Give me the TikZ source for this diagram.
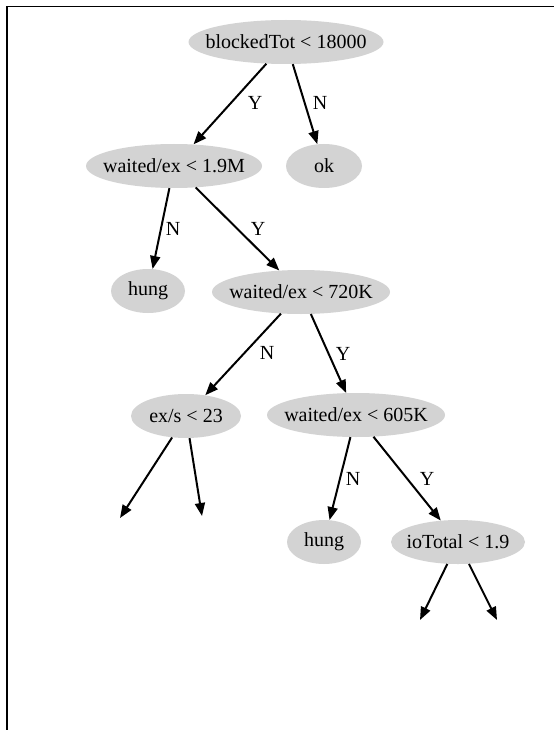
\documentclass[tikz,border=0pt]{standalone}
\usepackage{fontspec}
\setmainfont{Liberation Serif}
\usetikzlibrary{arrows.meta}
\usetikzlibrary{shapes.geometric}
\definecolor{nodegray}{HTML}{D3D3D3}
\newcommand{\testtxt}[1]{\makebox[0pt]{#1}}

\begin{document}
\begin{tikzpicture}[x=1pt,y=1pt,yscale=-1,xscale=1,
	test/.style={ellipse, fill=nodegray, draw=none, inner sep=0pt, minimum height=44pt, font=\fontsize{20}{23}\selectfont},
	elabel/.style={inner sep=0pt, font=\fontsize{20}{23}\selectfont},
	branch/.style={line width=2pt, -{Triangle[length=13pt,width=10pt]}}]
		\useasboundingbox (0,0) rectangle (554,730);
		
		%Shape: Frame
		\draw[line width=1.6pt] (7,730) -- (7,6.5) -- (554,6.5);
		
		%Tests and leaves
		\node[test, minimum width=195pt] (root) at (286,42) {\testtxt{blockedTot < 18000}};
		\node[test, minimum width=176pt] (wex19) at (174,166) {\testtxt{waited/ex < 1.9M}};
		\node[test, minimum width=76pt] (ok) at (324,166) {\testtxt{ok}};
		\node[test, minimum width=74pt] (hungA) at (148,291) {\testtxt{hung}};
		\node[test, minimum width=178pt] (wex720) at (301,292) {\testtxt{waited/ex < 720K}};
		\node[test, minimum width=110pt] (exs) at (186,416) {\testtxt{ex/s < 23}};
		\node[test, minimum width=178pt] (wex605) at (356,415) {\testtxt{waited/ex < 605K}};
		\node[test, minimum width=74pt] (hungB) at (324,542) {\testtxt{hung}};
		\node[test, minimum width=134pt] (iot) at (458,542) {\testtxt{ioTotal < 1.9}};
		
		%Free ends
		\coordinate (exsL) at (120,518);
		\coordinate (exsR) at (202,516);
		\coordinate (iotL) at (420,620);
		\coordinate (iotR) at (497,620);
		
		%Branches
		\draw[branch] (root) -- (wex19);
		\draw[branch] (root) -- (ok);
		\draw[branch] (wex19) -- (hungA);
		\draw[branch] (wex19) -- (wex720);
		\draw[branch] (wex720) -- (exs);
		\draw[branch] (wex720) -- (wex605);
		\draw[branch] (wex605) -- (hungB);
		\draw[branch] (wex605) -- (iot);
		\draw[branch] (exs) -- (exsL);
		\draw[branch] (exs) -- (exsR);
		\draw[branch] (iot) -- (iotL);
		\draw[branch] (iot) -- (iotR);
		
		%Branch labels
		\node[elabel] (yA) at (255,103) {Y};
		\node[elabel] (nA) at (320,103) {N};
		\node[elabel] (nB) at (173,229) {N};
		\node[elabel] (yB) at (258,229) {Y};
		\node[elabel] (nC) at (267,353) {N};
		\node[elabel] (yC) at (343,354) {Y};
		\node[elabel] (nD) at (353,479) {N};
		\node[elabel] (yD) at (427,479) {Y};
		
	\end{tikzpicture}
\end{document}
